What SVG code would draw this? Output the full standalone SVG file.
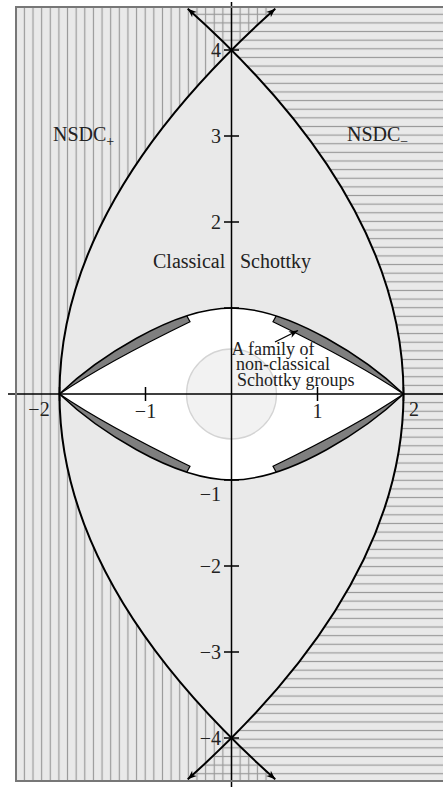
<svg xmlns="http://www.w3.org/2000/svg" width="443" height="787" viewBox="0 0 443 787">
<style>
.ax{stroke:#000;stroke-width:1.5;fill:none}
.cv{stroke:#000;stroke-width:2;fill:none}
.lbl{font-family:"Liberation Serif","Times New Roman",serif;font-size:20px;fill:#222}
.sm{font-family:"Liberation Serif","Times New Roman",serif;font-size:18px;fill:#222}
.sl{fill:#7f7f7f;stroke:#000;stroke-width:1.2}
</style>
<defs>
<pattern id="pv" patternUnits="userSpaceOnUse" x="227.185" y="0" width="8.63" height="20">
<line x1="4.315" y1="0" x2="4.315" y2="20" stroke="#999" stroke-width="1.2"/>
</pattern>
<pattern id="ph" patternUnits="userSpaceOnUse" x="0" y="389.685" width="20" height="8.63">
<line x1="0" y1="4.315" x2="20" y2="4.315" stroke="#999" stroke-width="1.2"/>
</pattern>
<clipPath id="frame"><rect x="17" y="8" width="440" height="772"/></clipPath>
<clipPath id="eyeclip"><path d="M59.5,394 C95,360 172,308 231.5,308 C291,308 368,360 403.5,394 C368,428 291,480 231.5,480 C172,480 95,428 59.5,394 Z"/></clipPath>
<marker id="arr" viewBox="-10 -5 12 10" markerWidth="12" markerHeight="10" refX="0" refY="0" orient="auto-start-reverse" markerUnits="userSpaceOnUse">
<path d="M0,0 L-9,-3.5 L-6.5,0 L-9,3.5 Z" fill="#000"/>
</marker>
</defs>

<g id="background">
<rect x="16" y="7" width="440" height="774" fill="#e9e9e9"/>
</g>

<g id="NSDC-plus-region" clip-path="url(#frame)">
<path d="M-20,-10.2 L296.95,-10.2 Q-177.95,394 296.95,798.2 L-20,798.2 Z" fill="url(#pv)"/>
</g>
<g id="NSDC-minus-region" clip-path="url(#frame)">
<path d="M463,-10.2 L166.05,-10.2 Q640.95,394 166.05,798.2 L463,798.2 Z" fill="url(#ph)"/>
</g>

<g id="classical-schottky-boundary">
<path class="cv" d="M275.26,8.7 Q-156.26,394 275.26,779.3" marker-start="url(#arr)" marker-end="url(#arr)"/>
<path class="cv" d="M187.74,8.7 Q619.26,394 187.74,779.3" marker-start="url(#arr)" marker-end="url(#arr)"/>
</g>

<g id="inner-region">
<path d="M59.5,394 C95,360 172,308 231.5,308 C291,308 368,360 403.5,394 C368,428 291,480 231.5,480 C172,480 95,428 59.5,394 Z" fill="#fff"/>
<g id="non-classical-family" clip-path="url(#eyeclip)">
<path class="sl" d="M59.5,394 Q105,363 190,321.7 L183.4,309.7 L40,300 L40,394 Z"/>
<path class="sl" d="M59.5,394 Q105,363 190,321.7 L183.4,309.7 L40,300 L40,394 Z" transform="matrix(1,0,0,-1,0,788)"/>
<path class="sl" d="M59.5,394 Q105,363 190,321.7 L183.4,309.7 L40,300 L40,394 Z" transform="matrix(-1,0,0,1,463,0)"/>
<path class="sl" d="M59.5,394 Q105,363 190,321.7 L183.4,309.7 L40,300 L40,394 Z" transform="matrix(-1,0,0,-1,463,788)"/>
</g>
<path d="M59.5,394 C95,360 172,308 231.5,308 C291,308 368,360 403.5,394 C368,428 291,480 231.5,480 C172,480 95,428 59.5,394 Z" fill="none" stroke="#000" stroke-width="1.5"/>
<circle cx="231.5" cy="394" r="45" fill="#f2f2f2" stroke="#d4d4d4" stroke-width="1.3"/>
</g>

<g id="axes">
<path class="ax" d="M8,394 H443 M231.5,2 V787"/>
<path class="ax" d="M59.5,387 V401 M145.5,387 V401 M317.5,387 V401 M403.5,387 V401"/>
<path class="ax" d="M224,50 H239 M224,136 H239 M224,222 H239 M224,308 H239 M224,480 H239 M224,566 H239 M224,652 H239 M224,738 H239"/>
</g>

<g id="axis-labels" class="lbl">
<text x="221" y="57" text-anchor="end">4</text>
<text x="221" y="143" text-anchor="end">3</text>
<text x="221" y="229" text-anchor="end">2</text>
<text x="221" y="501" text-anchor="end">−1</text>
<text x="221" y="573" text-anchor="end">−2</text>
<text x="221" y="659" text-anchor="end">−3</text>
<text x="221" y="745" text-anchor="end">−4</text>
<text x="39" y="416" text-anchor="middle">−2</text>
<text x="145.5" y="418" text-anchor="middle">−1</text>
<text x="317.5" y="418" text-anchor="middle">1</text>
<text x="414" y="416" text-anchor="middle">2</text>
</g>

<g id="region-labels">
<text class="lbl" x="53" y="141">NSDC<tspan font-size="14" dy="5">+</tspan></text>
<text class="lbl" x="347" y="141">NSDC<tspan font-size="14" dy="5">−</tspan></text>
<text class="lbl" x="153" y="268" font-size="20.5">Classical</text>
<text class="lbl" x="240" y="268" font-size="20.5">Schottky</text>
</g>

<g id="family-label">
<text class="sm" x="231.5" y="355">A family of</text>
<text class="sm" x="236" y="370">non-classical</text>
<text class="sm" x="237" y="385.5">Schottky groups</text>
</g>
<g id="connectors">
<path d="M275,342 L298,330.5" stroke="#000" stroke-width="1.3" fill="none" marker-end="url(#arr)"/>
</g>

<g id="frame-border">
<rect x="16" y="7" width="440" height="774" fill="none" stroke="#777" stroke-width="2"/>
</g>
</svg>
